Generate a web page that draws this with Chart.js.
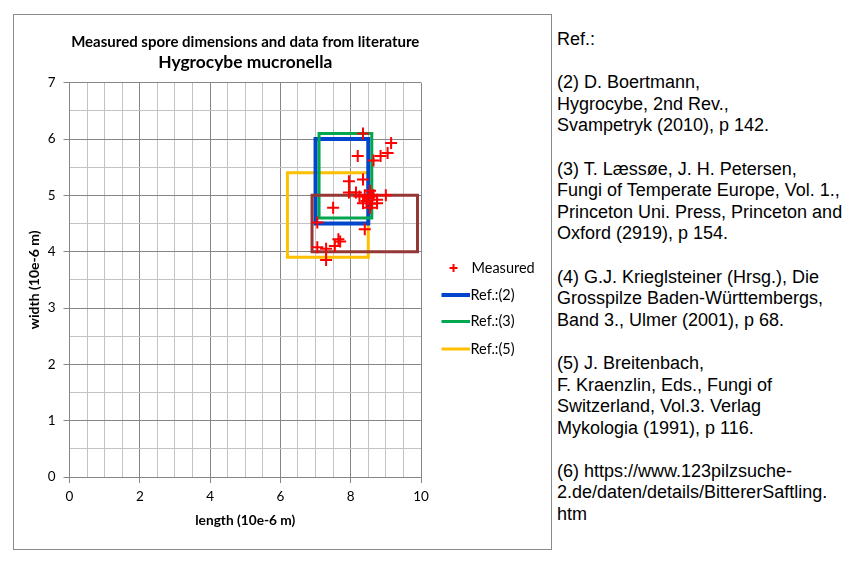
<!DOCTYPE html>
<html>
<head>
<meta charset="utf-8">
<script src="https://cdn.jsdelivr.net/npm/chart.js@4.4.0/dist/chart.umd.min.js"></script>
<style>
  html, body { margin: 0; padding: 0; background: #ffffff; }
  body { width: 848px; height: 565px; position: relative; overflow: hidden; }
  #box { position: absolute; left: 13px; top: 14px; width: 537px; height: 534px; border: 1px solid #8a8a8a; }
  #box canvas { position: absolute; left: 0; top: 0; }
  #refs { position: absolute; left: 557px; top: 29px; font-family: "Liberation Sans", Arial, sans-serif; font-size: 18px; line-height: 21.6px; color: #000; white-space: pre; }
</style>
</head>
<body>
<div id="box"><canvas id="c" width="537" height="534"></canvas></div>
<div id="refs">Ref.:

(2) D. Boertmann,
Hygrocybe, 2nd Rev.,
Svampetryk (2010), p 142.

(3) T. Læssøe, J. H. Petersen,
Fungi of Temperate Europe, Vol. 1.,
Princeton Uni. Press, Princeton and
Oxford (2919), p 154.

(4) G.J. Krieglsteiner (Hrsg.), Die
Grosspilze Baden-Württembergs,
Band 3., Ulmer (2001), p 68.

(5) J. Breitenbach,
F. Kraenzlin, Eds., Fungi of
Switzerland, Vol.3. Verlag
Mykologia (1991), p 116.

(6) https://www.123pilzsuche-
2.de/daten/details/BittererSaftling.
htm</div>
<script>
// ---- data ----
const measuredLength = [8.35, 9.15, 9.05, 8.85, 8.65, 8.2, 7.95, 8.35, 7.95, 8.15, 8.25, 8.4, 8.55, 8.6, 8.5, 8.75, 9.0, 8.45, 8.75, 8.35, 8.55, 7.5, 8.4, 7.05, 7.65, 7.7, 7.05, 7.3, 7.55, 7.3, 8.6, 8.65];
const measuredWidth  = [6.1, 5.93, 5.75, 5.7, 5.62, 5.7, 5.25, 5.28, 5.05, 5.05, 4.98, 5.0, 5.08, 4.98, 4.95, 4.92, 5.0, 4.9, 4.86, 4.86, 4.78, 4.78, 4.4, 4.52, 4.22, 4.18, 4.08, 4.05, 4.1, 3.85, 4.85, 5.0];
// reference ranges: [minLength, maxLength, minWidth, maxWidth]
const ref2 = [7.0, 8.5, 4.5, 6.0];
const ref3 = [7.1, 8.6, 4.6, 6.1];
const ref4 = [6.9, 9.9, 4.0, 5.0];
const ref5 = [6.2, 8.5, 3.9, 5.4];
const xTickLabels = [0, 2, 4, 6, 8, 10];
const yTickLabels = [0, 1, 2, 3, 4, 5, 6, 7];

const MAJOR = '#868686';
const MINOR = '#c3c3c3';
const FONT = 'Lato, "Open Sans", sans-serif';

function rectPoints(r) {
  return [
    {x: r[0], y: r[2]}, {x: r[1], y: r[2]}, {x: r[1], y: r[3]},
    {x: r[0], y: r[3]}, {x: r[0], y: r[2]}
  ];
}
function rectDataset(label, r, color, width, inLegend, order) {
  return {
    type: 'line', label: label, data: rectPoints(r), borderColor: color, backgroundColor: color,
    borderWidth: width, pointRadius: 0, fill: false, tension: 0, showLine: true,
    borderJoinStyle: 'miter', borderCapStyle: 'square', inLegend: inLegend, order: order
  };
}

const measured = measuredLength.map((x, i) => ({x: x, y: measuredWidth[i]}));

const legendPlugin = {
  id: 'customLegend',
  afterDraw(chart) {
    const ctx = chart.ctx;
    const items = chart.data.datasets.filter(d => d.inLegend);
    const rowsY = [253, 280, 306.5, 334];
    const sampleL = 427.5, sampleR = 456, textX = 456.5;
    ctx.save();
    ctx.font = '14.5px ' + FONT;
    ctx.textBaseline = 'middle';
    ctx.textAlign = 'left';
    items.forEach((d, i) => {
      const y = rowsY[i];
      if (d.pointStyle === 'cross') {
        ctx.strokeStyle = d.pointBorderColor;
        ctx.lineWidth = 2;
        ctx.beginPath();
        ctx.moveTo(439.5 - 4, y); ctx.lineTo(439.5 + 4, y);
        ctx.moveTo(439.5, y - 4); ctx.lineTo(439.5, y + 4);
        ctx.stroke();
        ctx.fillStyle = '#000';
        ctx.fillText(d.label, textX + 1, y);
      } else {
        ctx.strokeStyle = d.borderColor;
        ctx.lineWidth = d.borderWidth;
        ctx.beginPath();
        ctx.moveTo(sampleL, y); ctx.lineTo(sampleR, y);
        ctx.stroke();
        ctx.fillStyle = '#000';
        ctx.fillText(d.label, textX, y);
      }
    });
    ctx.restore();
  }
};

new Chart(document.getElementById('c'), {
  type: 'scatter',
  data: {
    datasets: [
      {
        label: 'Measured', data: measured, pointStyle: 'cross', pointRadius: 6, pointHoverRadius: 6,
        pointBorderColor: '#ff0000', pointBackgroundColor: '#ff0000', borderColor: '#ff0000', pointBorderWidth: 2,
        showLine: false, inLegend: true, order: 0
      },
      rectDataset('Ref.:(2)', ref2, '#0046cc', 4, true, 4),
      rectDataset('Ref.:(3)', ref3, '#00a650', 3, true, 3),
      rectDataset('Ref.:(4)', ref4, '#953735', 3, false, 2),
      rectDataset('Ref.:(5)', ref5, '#ffc000', 3, true, 5)
    ]
  },
  options: {
    responsive: false,
    animation: false,
    devicePixelRatio: 1,
    layout: { padding: { left: 0, right: 130, top: 10, bottom: 0 } },
    plugins: {
      legend: { display: false },
      tooltip: { enabled: false },
      title: {
        display: true, fullSize: false, text: 'Measured spore dimensions and data from literature',
        color: '#000', font: { family: FONT, size: 15, weight: 'bold', lineHeight: 1.2 },
        padding: { top: 8, bottom: 0.8 }
      },
      subtitle: {
        display: true, fullSize: false, text: 'Hygrocybe mucronella',
        color: '#000', font: { family: FONT, size: 17.4, weight: 'bold', lineHeight: 1.2 },
        padding: { top: 0, bottom: 10 }
      }
    },
    scales: {
      x: {
        type: 'linear', min: 0, max: 10,
        afterFit(s) { s.height = 72; },
        ticks: {
          stepSize: 0.5, autoSkip: false, maxRotation: 0, padding: 6, color: '#000',
          font: { family: FONT, size: 13.5 },
          callback: v => xTickLabels.includes(v) ? String(v) : ''
        },
        grid: {
          color: c => (c.tick && xTickLabels.includes(c.tick.value)) ? MAJOR : MINOR,
          tickColor: c => (c.tick && xTickLabels.includes(c.tick.value)) ? MAJOR : 'rgba(0,0,0,0)',
          tickLength: 6, lineWidth: 1
        },
        border: { color: MAJOR, width: 1 },
        title: {
          display: true, text: 'length (10e-6 m)', color: '#000',
          font: { family: FONT, size: 13.7, weight: 'bold', lineHeight: 1.2 },
          padding: { top: 0, bottom: 20 }
        }
      },
      y: {
        type: 'linear', min: 0, max: 7,
        afterFit(s) { s.width = 55.5; },
        ticks: {
          stepSize: 0.5, autoSkip: false, padding: 8, color: '#000',
          font: { family: FONT, size: 13.5 },
          callback: v => yTickLabels.includes(v) ? String(v) : ''
        },
        grid: {
          color: c => (c.tick && yTickLabels.includes(c.tick.value)) ? MAJOR : MINOR,
          tickColor: c => (c.tick && yTickLabels.includes(c.tick.value)) ? MAJOR : 'rgba(0,0,0,0)',
          tickLength: 6, lineWidth: 1
        },
        border: { color: MAJOR, width: 1 },
        title: {
          display: true, text: 'width (10e-6 m)', color: '#000',
          font: { family: FONT, size: 14, weight: 'bold', lineHeight: 1.2 },
          padding: { top: 12, bottom: 0 }
        }
      }
    }
  },
  plugins: [legendPlugin]
});
</script>
</body>
</html>
